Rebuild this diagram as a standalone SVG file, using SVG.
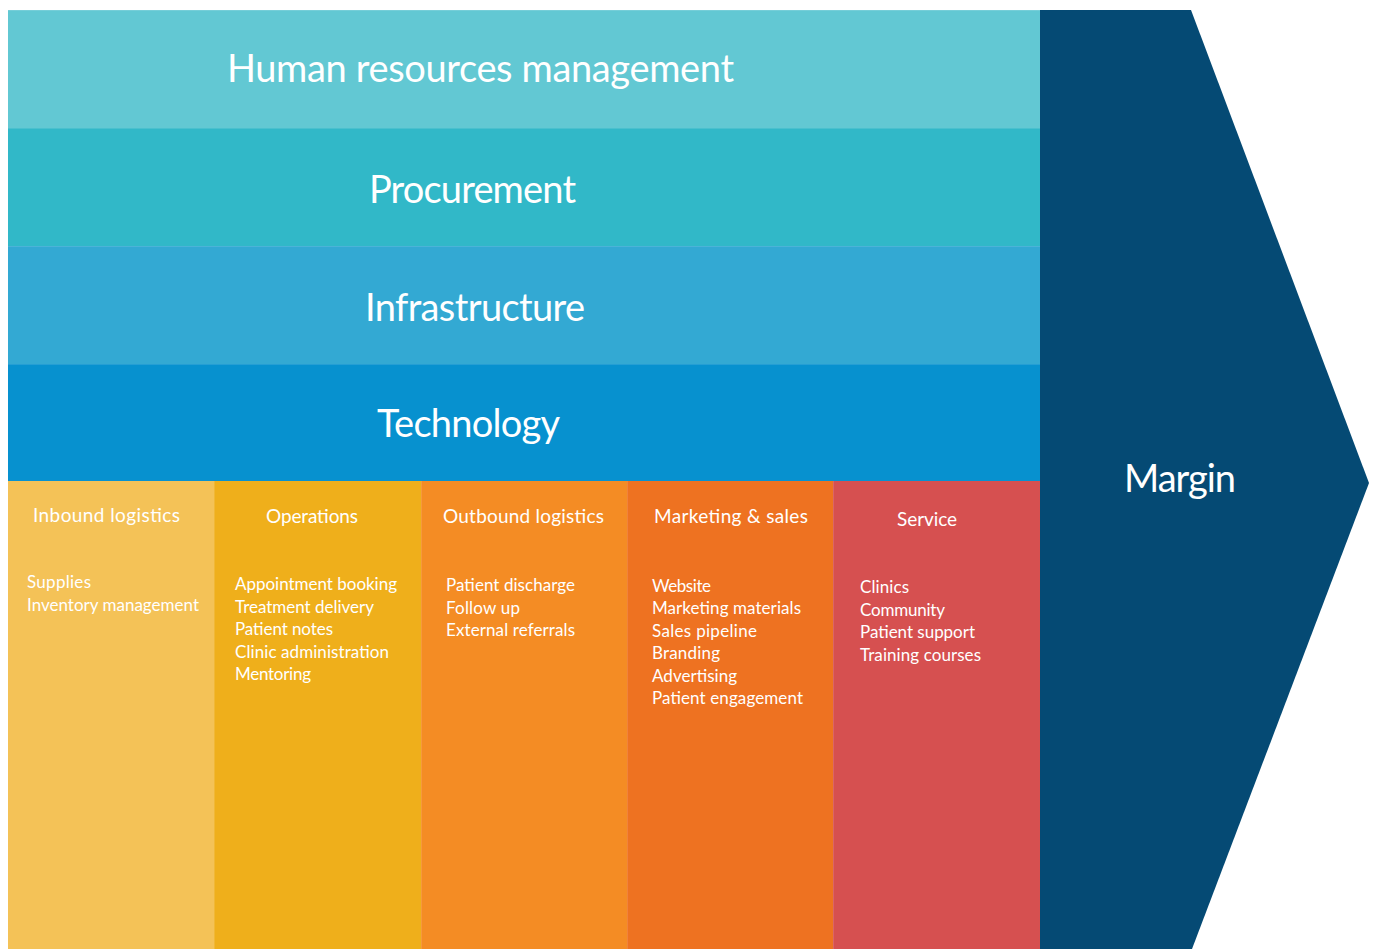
<svg xmlns="http://www.w3.org/2000/svg" width="1379" height="949" viewBox="0 0 1379 949">
  <style>
    .title { font-family: Lato, "Open Sans", "Liberation Sans", sans-serif; font-size: 38px; fill: #ffffff; text-anchor: middle; }
    .head { font-family: Lato, "Open Sans", "Liberation Sans", sans-serif; font-size: 19px; fill: #ffffff; }
    .item { font-family: Lato, "Open Sans", "Liberation Sans", sans-serif; font-size: 17px; fill: #ffffff; }
    .edge { stroke: #ffffff; stroke-opacity: 0.12; stroke-width: 1; }
  </style>
  <rect x="0" y="0" width="1379" height="949" fill="#ffffff"/>

  <!-- support activities -->
  <g id="hr">
    <rect x="8" y="10" width="1032" height="118" fill="#62C8D3"/>
    <line class="edge" x1="8" y1="10.5" x2="1040" y2="10.5" stroke-opacity="0.4"/>
    <text class="title" x="480.5" y="82" textLength="507">Human resources management</text>
  </g>
  <g id="procurement">
    <rect x="8" y="128" width="1032" height="118" fill="#31B8C8"/>
    <line class="edge" x1="8" y1="128.5" x2="1040" y2="128.5"/>
    <text class="title" x="472.5" y="203" textLength="207">Procurement</text>
  </g>
  <g id="infrastructure">
    <rect x="8" y="246" width="1032" height="118" fill="#33A9D3"/>
    <line class="edge" x1="8" y1="246.5" x2="1040" y2="246.5"/>
    <text class="title" x="475" y="321" textLength="220">Infrastructure</text>
  </g>
  <g id="technology">
    <rect x="8" y="364" width="1032" height="117" fill="#0791CF"/>
    <line class="edge" x1="8" y1="364.5" x2="1040" y2="364.5"/>
    <text class="title" x="468.5" y="437" textLength="183">Technology</text>
  </g>

  <!-- primary activities -->
  <g id="inbound">
    <rect x="8" y="481" width="206" height="468" fill="#F4C257"/>
    <text class="head" x="33" y="522" textLength="147">Inbound logistics</text>
    <text class="item" x="27" y="588" textLength="64">Supplies</text>
    <text class="item" x="27" y="611" textLength="172">Inventory management</text>
  </g>
  <g id="operations">
    <rect x="214" y="481" width="207" height="468" fill="#EFAF1B"/>
    <line class="edge" x1="214.5" y1="481" x2="214.5" y2="949"/>
    <text class="head" x="266" y="523" textLength="92">Operations</text>
    <text class="item" x="235" y="590" textLength="162">Appointment booking</text>
    <text class="item" x="235" y="612.5" textLength="139">Treatment delivery</text>
    <text class="item" x="235" y="635" textLength="98">Patient notes</text>
    <text class="item" x="235" y="657.5" textLength="154">Clinic administration</text>
    <text class="item" x="235" y="680" textLength="76">Mentoring</text>
  </g>
  <g id="outbound">
    <rect x="421" y="481" width="206" height="468" fill="#F48C24"/>
    <line class="edge" x1="421.5" y1="481" x2="421.5" y2="949"/>
    <text class="head" x="443" y="523" textLength="161">Outbound logistics</text>
    <text class="item" x="446" y="591" textLength="129">Patient discharge</text>
    <text class="item" x="446" y="613.5" textLength="74">Follow up</text>
    <text class="item" x="446" y="636" textLength="129">External referrals</text>
  </g>
  <g id="marketing">
    <rect x="627" y="481" width="206" height="468" fill="#EE7221"/>
    <line class="edge" x1="627.5" y1="481" x2="627.5" y2="949"/>
    <text class="head" x="654" y="523" textLength="154">Marketing &amp; sales</text>
    <text class="item" x="652" y="591.5" textLength="59">Website</text>
    <text class="item" x="652" y="614" textLength="149">Marketing materials</text>
    <text class="item" x="652" y="636.5" textLength="105">Sales pipeline</text>
    <text class="item" x="652" y="659" textLength="68">Branding</text>
    <text class="item" x="652" y="681.5" textLength="85">Advertising</text>
    <text class="item" x="652" y="704" textLength="151">Patient engagement</text>
  </g>
  <g id="service">
    <rect x="833" y="481" width="207" height="468" fill="#D65050"/>
    <line class="edge" x1="833.5" y1="481" x2="833.5" y2="949"/>
    <text class="head" x="897" y="526" textLength="60">Service</text>
    <text class="item" x="860" y="593" textLength="49">Clinics</text>
    <text class="item" x="860" y="615.5" textLength="85">Community</text>
    <text class="item" x="860" y="638" textLength="115">Patient support</text>
    <text class="item" x="860" y="660.5" textLength="121">Training courses</text>
  </g>

  <!-- margin arrow -->
  <g id="margin">
    <polygon points="1040,10 1191,10 1369,483 1192,949 1040,949" fill="#054A74"/>
    <text class="title" x="1180" y="492" textLength="112">Margin</text>
  </g>
</svg>
